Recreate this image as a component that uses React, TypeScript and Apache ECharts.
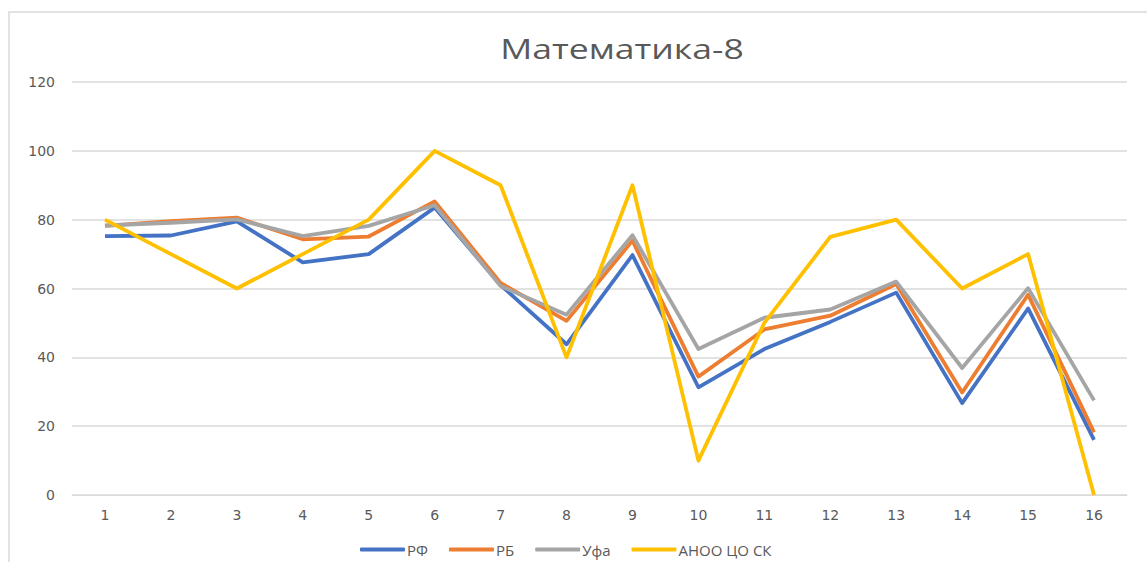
import React, { useEffect, useRef } from "react";
import * as echarts from "echarts";

const categories = ["1","2","3","4","5","6","7","8","9","10","11","12","13","14","15","16"];
const seriesNames = ["РФ", "РБ", "Уфа", "АНОО ЦО СК"];
const titleText = "Математика-8";
const rfValues = [75.2, 75.4, 79.5, 67.6, 70.0, 83.5, 61.0, 43.8, 69.7, 31.3, 42.4, 50.3, 58.8, 26.7, 54.2, 16.0];
const rbValues = [78.2, 79.6, 80.6, 74.3, 75.1, 85.3, 61.6, 50.6, 73.9, 34.4, 48.1, 52.1, 61.3, 29.8, 58.2, 18.2];
const ufaValues = [78.3, 79.1, 80.1, 75.2, 78.2, 84.2, 60.7, 52.4, 75.5, 42.4, 51.5, 53.9, 62.0, 36.9, 60.1, 27.5];
const anooValues = [80, 70, 60, 70, 80, 100, 90, 40, 90, 10, 50, 75, 80, 60, 70, 0];
const colors = ["#4472C4", "#ED7D31", "#A5A5A5", "#FFC000"];

export default function App() {
  const ref = useRef<HTMLDivElement>(null);
  useEffect(() => {
    if (!ref.current) return;
    const chart = echarts.init(ref.current, undefined, { renderer: "svg" });
    const all = [rfValues, rbValues, ufaValues, anooValues];
    chart.setOption({
      animation: false,
      backgroundColor: "#ffffff",
      textStyle: { fontFamily: "Open Sans" },
      graphic: [
        {
          type: "rect",
          shape: { x: 9, y: 12, width: 1200, height: 600 },
          style: { fill: "none", stroke: "#d9d9d9", lineWidth: 1.5 },
          silent: true,
        },
        {
          type: "text",
          x: 622,
          y: 48,
          scaleX: 1.27,
          style: {
            text: titleText,
            fontSize: 28,
            fontFamily: "Open Sans",
            fill: "#595959",
            textAlign: "center",
            textVerticalAlign: "middle",
          },
          silent: true,
        },
      ],
      legend: {
        left: 355,
        top: 537,
        icon: "roundRect",
        itemWidth: 45,
        itemHeight: 4,
        itemGap: 21,
        textStyle: { fontSize: 15, color: "#595959", padding: [0, 0, 0, -3] },
        data: seriesNames,
      },
      grid: { left: 72, right: 20, top: 82, bottom: 67, containLabel: false },
      xAxis: {
        type: "category",
        data: categories,
        boundaryGap: true,
        axisLine: { lineStyle: { color: "#d9d9d9" } },
        axisTick: { show: false },
        axisLabel: { color: "#595959", fontSize: 14, margin: 13, fontFamily: "DejaVu Sans" },
      },
      yAxis: {
        type: "value",
        min: 0,
        max: 120,
        interval: 20,
        axisLine: { show: false },
        axisTick: { show: false },
        axisLabel: { color: "#595959", fontSize: 14, margin: 17, fontFamily: "DejaVu Sans" },
        splitLine: { lineStyle: { color: "#d9d9d9", width: 1.5 } },
      },
      series: seriesNames.map((name, i) => ({
        name,
        type: "line",
        data: all[i],
        symbol: "none",
        showSymbol: false,
        itemStyle: { color: colors[i] },
        lineStyle: { color: colors[i], width: 3.8, join: "round" },
      })),
    });
    return () => chart.dispose();
  }, []);
  return (
    <div
      ref={ref}
      style={{ position: "absolute", left: 0, top: 0, width: 1147, height: 562 }}
    />
  );
}
